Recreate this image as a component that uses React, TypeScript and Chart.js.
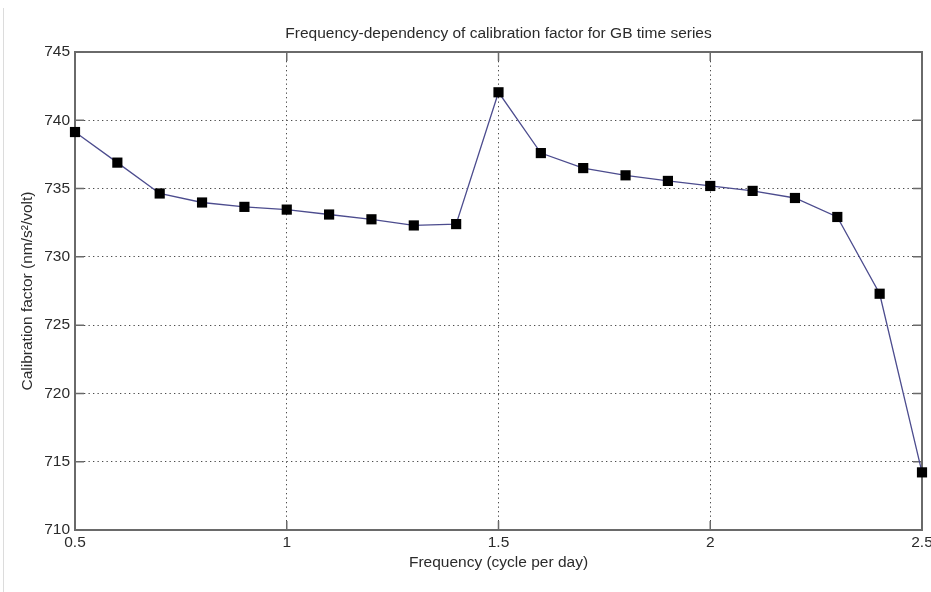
import React, { useEffect, useRef } from "react";
import { Chart, registerables } from "chart.js";

Chart.register(...registerables);

const frequencies = [0.5, 0.6, 0.7, 0.8, 0.9, 1.0, 1.1, 1.2, 1.3, 1.4, 1.5, 1.6, 1.7, 1.8, 1.9, 2.0, 2.1, 2.2, 2.3, 2.4, 2.5];
const calibration = [739.14, 736.9, 734.64, 733.98, 733.66, 733.46, 733.1, 732.75, 732.3, 732.4, 742.05, 737.6, 736.5, 735.97, 735.56, 735.19, 734.83, 734.31, 732.92, 727.3, 714.22];
const xTickValues = [0.5, 1, 1.5, 2, 2.5];
const yTickValues = [710, 715, 720, 725, 730, 735, 740, 745];

const titleText = "Frequency-dependency of calibration factor for GB time series";
const xTitle = "Frequency (cycle per day)";
const yTitle = "Calibration factor (nm/s\u00B2/volt)";

const FONT = "'Liberation Sans', Arial, Helvetica, sans-serif";
const FS = 15.5;
const TEXT = "#2b2b2b";
const AXIS = "#6a6a6a";

const framePlugin = {
  id: "frame",
  beforeDatasetsDraw(chart: any) {
    const { ctx, chartArea: a, scales } = chart;
    ctx.save();
    ctx.setLineDash([]);
    ctx.strokeStyle = AXIS;
    ctx.lineWidth = 2;
    ctx.strokeRect(a.left, a.top, a.right - a.left, a.bottom - a.top);
    ctx.lineWidth = 1.5;
    const tl = 9;
    ctx.beginPath();
    scales.x.ticks.forEach((t: any) => {
      const px = scales.x.getPixelForValue(t.value);
      ctx.moveTo(px, a.bottom);
      ctx.lineTo(px, a.bottom - tl);
      ctx.moveTo(px, a.top);
      ctx.lineTo(px, a.top + tl);
    });
    scales.y.ticks.forEach((t: any) => {
      const py = scales.y.getPixelForValue(t.value);
      ctx.moveTo(a.left, py);
      ctx.lineTo(a.left + tl, py);
      ctx.moveTo(a.right, py);
      ctx.lineTo(a.right - tl, py);
    });
    ctx.stroke();
    ctx.restore();
  },
  afterDraw(chart: any) {
    const { ctx, height } = chart;
    ctx.save();
    ctx.strokeStyle = "#dcdcdc";
    ctx.lineWidth = 1;
    ctx.beginPath();
    ctx.moveTo(3.5, 8);
    ctx.lineTo(3.5, height);
    ctx.stroke();
    ctx.restore();
  },
};

export default function App() {
  const ref = useRef<HTMLCanvasElement | null>(null);

  useEffect(() => {
    if (!ref.current) return;
    const chart = new Chart(ref.current, {
      type: "line",
      data: {
        datasets: [
          {
            data: frequencies.map((f, i) => ({ x: f, y: calibration[i] })),
            borderColor: "#4c4c8e",
            borderWidth: 1.3,
            pointStyle: "rect",
            pointRadius: 7.2,
            pointBackgroundColor: "#000000",
            pointBorderColor: "#000000",
            pointBorderWidth: 0,
            tension: 0,
            clip: false as any,
          },
        ],
      },
      options: {
        animation: false,
        responsive: false,
        events: [],
        layout: { padding: { left: 0, right: 9, top: 0, bottom: 0 } },
        plugins: {
          legend: { display: false },
          tooltip: { enabled: false },
          title: { display: false },
        },
        scales: {
          x: {
            type: "linear",
            min: 0.5,
            max: 2.5,
            afterBuildTicks: (s: any) => {
              s.ticks = xTickValues.map((v) => ({ value: v }));
            },
            afterFit: (s: any) => {
              s.height = 62;
              s.paddingLeft = 0;
              s.paddingRight = 0;
            },
            ticks: {
              color: TEXT,
              padding: 3,
              maxRotation: 0,
              autoSkip: false,
              callback: (v: any) => String(v),
              font: { family: FONT, size: FS, lineHeight: 1.2 },
            },
            grid: {
              color: "#4a4a4a",
              lineWidth: 1,
              drawTicks: false,
            },
            border: { display: false, dash: [1.3, 3.2] },
            title: {
              display: true,
              text: xTitle,
              color: TEXT,
              font: { family: FONT, size: FS, lineHeight: 1.2 },
              padding: { top: 0, bottom: 20 },
            },
          },
          xTop: {
            type: "linear",
            position: "top",
            min: 0.5,
            max: 2.5,
            afterFit: (s: any) => {
              s.height = 52;
              s.paddingLeft = 0;
              s.paddingRight = 0;
            },
            ticks: { display: false },
            grid: { display: false, drawTicks: false },
            border: { display: false },
            title: {
              display: true,
              text: titleText,
              color: TEXT,
              font: { family: FONT, size: FS, lineHeight: 1.2 },
              padding: { top: 24, bottom: 10 },
            },
          },
          y: {
            type: "linear",
            min: 710,
            max: 745,
            afterBuildTicks: (s: any) => {
              s.ticks = yTickValues.map((v) => ({ value: v }));
            },
            afterFit: (s: any) => {
              s.width = 75;
              s.paddingTop = 0;
              s.paddingBottom = 0;
            },
            ticks: {
              color: TEXT,
              padding: 5,
              autoSkip: false,
              font: { family: FONT, size: FS, lineHeight: 1.2 },
            },
            grid: {
              color: "#4a4a4a",
              lineWidth: 1,
              drawTicks: false,
            },
            border: { display: false, dash: [1.3, 3.2] },
            title: {
              display: true,
              text: yTitle,
              color: TEXT,
              font: { family: FONT, size: FS, lineHeight: 1.2 },
              padding: { top: 18, bottom: 0 },
            },
          },
        },
      },
      plugins: [framePlugin],
    } as any);
    return () => chart.destroy();
  }, []);

  return (
    <div style={{ position: "absolute", left: 0, top: 0, width: 931, height: 592, background: "#ffffff" }}>
      <canvas ref={ref} width={931} height={592} style={{ display: "block" }} />
    </div>
  );
}
